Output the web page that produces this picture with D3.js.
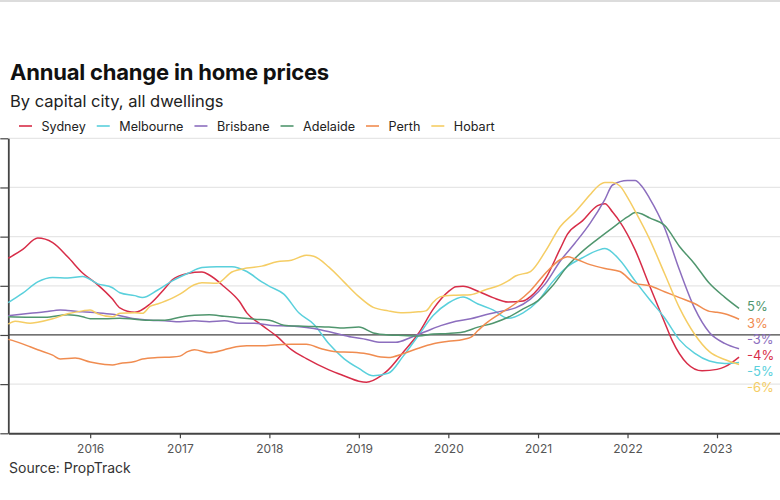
<!DOCTYPE html>
<html><head><meta charset="utf-8">
<script src="https://cdn.jsdelivr.net/npm/d3@7"></script>
<style>body{margin:0;background:#fff;} svg{display:block;font-family:Inter,"Noto Sans",sans-serif;}</style>
</head><body><svg id="c" width="780" height="500"></svg>
<script>
const cities = ["Sydney","Melbourne","Brisbane","Adelaide","Perth","Hobart"];
const colors = ["#d72d48","#5ad0dc","#8c6ebe","#50966e","#f08c50","#f5cd64"];
const endLabels = ["-4%","-5%","-3%","5%","3%","-6%"];
const yTicks = [-20,-10,0,10,20,30,40];
const xTickYears = [2016,2017,2018,2019,2020,2021,2022,2023];

const sydney = [["2015-02",15.6],["2015-04",17.4],["2015-06",19.7],["2015-08",18.8],["2015-10",15.9],["2015-12",12.6],["2016-02",10.2],["2016-04",7.3],["2016-05",5.5],["2016-07",4.6],["2016-09",6.3],["2016-11",9.5],["2016-12",11.2],["2017-02",12.5],["2017-04",12.8],["2017-05",12.2],["2017-07",9.8],["2017-09",6.8],["2017-10",4.5],["2017-12",2.0],["2018-02",-0.3],["2018-04",-3.0],["2018-06",-4.8],["2018-09",-7.1],["2018-11",-8.3],["2019-01",-9.4],["2019-02",-9.6],["2019-04",-8.3],["2019-05",-7.1],["2019-07",-3.5],["2019-09",0.3],["2019-11",5.3],["2020-01",8.8],["2020-02",9.8],["2020-03",9.9],["2020-05",8.9],["2020-07",7.6],["2020-09",6.7],["2020-11",6.9],["2020-12",7.8],["2021-02",11.5],["2021-04",17.5],["2021-05",20.5],["2021-07",23.2],["2021-09",26.3],["2021-10",26.7],["2021-11",25.0],["2021-12",23.0],["2022-02",17.3],["2022-04",10.0],["2022-06",2.6],["2022-07",-1.0],["2022-09",-5.8],["2022-11",-7.3],["2023-01",-7.0],["2023-02",-6.5],["2023-04",-4.5]];
const melbourne = [["2015-02",6.6],["2015-04",8.5],["2015-06",10.8],["2015-08",11.7],["2015-10",11.6],["2015-12",11.9],["2016-02",10.4],["2016-04",9.6],["2016-05",8.6],["2016-07",8.0],["2016-08",7.6],["2016-10",9.1],["2016-12",11.0],["2017-02",12.5],["2017-04",13.7],["2017-06",13.9],["2017-08",13.9],["2017-10",12.9],["2017-12",10.8],["2018-01",9.9],["2018-03",8.3],["2018-05",4.5],["2018-07",2.2],["2018-09",-1.8],["2018-11",-4.8],["2019-01",-6.8],["2019-03",-8.3],["2019-05",-7.8],["2019-07",-4.3],["2019-09",-0.1],["2019-11",4.0],["2020-01",6.5],["2020-03",7.7],["2020-05",6.3],["2020-07",5.1],["2020-09",3.4],["2020-11",4.5],["2021-01",6.9],["2021-03",10.8],["2021-05",13.9],["2021-07",15.7],["2021-09",17.2],["2021-10",17.6],["2021-12",15.2],["2022-02",11.0],["2022-04",7.2],["2022-06",3.5],["2022-08",-1.0],["2022-10",-3.7],["2022-12",-5.3],["2023-02",-5.8],["2023-04",-5.6]];
const brisbane = [["2015-02",3.9],["2015-05",4.4],["2015-07",4.7],["2015-09",5.1],["2015-10",5.0],["2015-12",4.7],["2016-02",4.5],["2016-04",4.2],["2016-07",3.3],["2016-09",3.0],["2016-11",2.9],["2017-01",2.7],["2017-03",2.9],["2017-05",2.7],["2017-07",2.9],["2017-09",2.4],["2017-11",2.4],["2018-01",2.0],["2018-04",1.8],["2018-06",1.5],["2018-08",1.0],["2018-10",0.3],["2018-12",-0.4],["2019-02",-0.9],["2019-04",-1.5],["2019-06",-1.5],["2019-08",-0.5],["2019-10",0.7],["2019-12",1.9],["2020-02",2.8],["2020-04",3.3],["2020-06",4.1],["2020-08",4.8],["2020-10",5.5],["2020-12",7.3],["2021-02",10.5],["2021-04",15.0],["2021-06",18.7],["2021-08",22.7],["2021-10",27.6],["2021-11",30.5],["2022-01",31.4],["2022-02",31.4],["2022-03",30.2],["2022-04",27.8],["2022-06",21.8],["2022-08",13.2],["2022-10",5.5],["2022-12",0.5],["2023-02",-1.7],["2023-04",-2.8]];
const adelaide = [["2015-02",3.7],["2015-05",3.6],["2015-07",3.6],["2015-10",4.1],["2015-12",3.7],["2016-01",3.3],["2016-03",3.3],["2016-05",3.4],["2016-07",3.2],["2016-09",3.0],["2016-11",3.0],["2017-01",3.6],["2017-03",4.0],["2017-05",4.1],["2017-07",3.8],["2017-09",3.5],["2017-11",3.2],["2018-01",3.0],["2018-03",2.0],["2018-05",1.8],["2018-07",1.7],["2018-09",1.6],["2018-11",1.4],["2019-01",1.6],["2019-03",0.4],["2019-05",0.0],["2019-07",-0.1],["2019-09",-0.2],["2019-11",0.2],["2020-01",0.3],["2020-03",0.6],["2020-05",1.6],["2020-07",2.4],["2020-09",3.6],["2020-11",5.3],["2021-01",7.0],["2021-03",10.0],["2021-05",14.0],["2021-07",17.0],["2021-09",19.5],["2021-11",21.8],["2022-01",24.0],["2022-02",24.9],["2022-03",24.6],["2022-04",23.8],["2022-06",22.3],["2022-08",18.0],["2022-10",14.5],["2022-12",10.5],["2023-02",7.7],["2023-04",5.4]];
const perth = [["2015-02",-0.9],["2015-03",-1.3],["2015-05",-2.4],["2015-06",-3.0],["2015-08",-4.1],["2015-09",-4.9],["2015-11",-4.7],["2016-01",-5.5],["2016-03",-6.0],["2016-04",-6.1],["2016-05",-5.8],["2016-07",-5.4],["2016-08",-4.9],["2016-10",-4.6],["2016-12",-4.5],["2017-01",-4.3],["2017-02",-3.4],["2017-03",-3.0],["2017-05",-3.6],["2017-07",-3.0],["2017-08",-2.6],["2017-10",-2.2],["2017-12",-2.2],["2018-02",-2.0],["2018-04",-1.9],["2018-06",-1.9],["2018-08",-2.8],["2018-10",-3.4],["2018-12",-3.5],["2019-02",-3.8],["2019-04",-4.5],["2019-05",-4.6],["2019-07",-3.8],["2019-09",-2.7],["2019-11",-1.8],["2020-01",-1.3],["2020-03",-0.9],["2020-04",-0.5],["2020-05",0.9],["2020-06",2.3],["2020-08",4.4],["2020-10",6.4],["2020-12",9.0],["2021-02",12.6],["2021-04",15.3],["2021-05",15.9],["2021-06",15.5],["2021-08",14.3],["2021-10",13.5],["2021-12",12.9],["2022-02",10.5],["2022-04",10.0],["2022-06",8.8],["2022-08",7.6],["2022-10",6.4],["2022-12",4.8],["2023-01",4.6],["2023-02",4.3],["2023-04",3.2]];
const hobart = [["2015-02",2.2],["2015-03",2.8],["2015-05",2.4],["2015-06",2.6],["2015-08",3.3],["2015-10",4.3],["2015-12",4.9],["2016-01",5.1],["2016-02",4.3],["2016-04",3.7],["2016-05",4.4],["2016-07",4.5],["2016-08",4.4],["2016-09",5.8],["2016-10",6.3],["2016-12",7.5],["2017-01",8.3],["2017-03",10.2],["2017-04",10.6],["2017-06",10.5],["2017-08",12.8],["2017-10",13.6],["2017-12",14.0],["2018-02",14.9],["2018-04",15.2],["2018-06",16.2],["2018-07",16.0],["2018-09",13.8],["2018-11",10.8],["2019-01",7.8],["2019-03",5.6],["2019-05",4.9],["2019-07",4.5],["2019-09",4.7],["2019-10",4.9],["2019-11",6.7],["2019-12",7.8],["2020-02",8.1],["2020-04",8.2],["2020-06",9.2],["2020-08",10.2],["2020-09",11.0],["2020-10",12.0],["2020-12",12.9],["2021-02",17.1],["2021-04",22.0],["2021-06",25.0],["2021-08",28.5],["2021-09",30.2],["2021-10",31.0],["2021-11",31.0],["2021-12",30.3],["2022-01",28.0],["2022-02",25.2],["2022-04",19.5],["2022-06",12.5],["2022-08",5.5],["2022-10",0.2],["2022-12",-3.4],["2023-02",-5.0],["2023-04",-6.0]];

const seriesValues = [sydney, melbourne, brisbane, adelaide, perth, hobart];
const parse = d3.timeParse("%Y-%m");

const svg = d3.select("#c");
const W = 780;
svg.append("rect").attr("x",0).attr("y",0).attr("width",W).attr("height",2).attr("fill","#dcdcdc");

// Titles
svg.append("text").attr("x",10).attr("y",80).attr("font-size",22).attr("font-weight",700).attr("fill","#111").attr("letter-spacing","-0.2").text("Annual change in home prices");
svg.append("text").attr("x",10).attr("y",107).attr("font-size",16.5).attr("fill","#222").text("By capital city, all dwellings");

// Legend
const leg = svg.append("g");
let lx = 19;
cities.forEach((c,i)=>{
  leg.append("line").attr("x1",lx).attr("x2",lx+13).attr("y1",126).attr("y2",126).attr("stroke",colors[i]).attr("stroke-width",1.6);
  const t = leg.append("text").attr("x",lx+22.5).attr("y",130.5).attr("font-size",12.6).attr("fill","#222").text(c);
  lx += 22.5 + t.node().getComputedTextLength() + 11;
});

const x = d3.scaleTime().domain([new Date(2015,1,1), new Date(2023,8,15)]).range([8.3,780]);
const y = d3.scaleLinear().domain([-20,40]).range([433.3,138.3]);

// gridlines
svg.append("g").selectAll("line").data(yTicks.filter(v=>v!==-20 && v!==0)).join("line")
  .attr("x1",8.3).attr("x2",W).attr("y1",d=>y(d)).attr("y2",d=>y(d))
  .attr("stroke","#e6e6e6").attr("stroke-width",1.2);

// y axis
const yAxis = svg.append("g").attr("transform","translate(8.3,0)")
  .call(d3.axisLeft(y).tickValues(yTicks).tickSize(8).tickFormat(()=>"").tickSizeOuter(0));
yAxis.select(".domain").attr("stroke","#444").attr("stroke-width",1.8);
yAxis.selectAll(".tick line").attr("stroke","#444").attr("stroke-width",1.2);

// zero line
svg.append("line").attr("x1",8.3).attr("x2",W).attr("y1",y(0)).attr("y2",y(0)).attr("stroke","#444").attr("stroke-width",1.3);

// x axis
const xAxis = svg.append("g").attr("transform",`translate(0,${y(-20)})`)
  .call(d3.axisBottom(x).tickValues(xTickYears.map(yr=>new Date(yr,0,1))).tickFormat(d3.timeFormat("%Y")).tickSize(5).tickSizeOuter(0).tickPadding(6));
xAxis.select(".domain").attr("stroke","#444").attr("stroke-width",2);
xAxis.selectAll(".tick line").attr("stroke","#444").attr("stroke-width",1.2);
xAxis.selectAll(".tick text").attr("font-size",12).attr("fill","#555").attr("font-family","Inter,'Noto Sans',sans-serif");

// lines
const line = d3.line().x(d=>x(parse(d[0]))).y(d=>y(d[1])).curve(d3.curveMonotoneX);
seriesValues.forEach((s,i)=>{
  svg.append("path").datum(s).attr("d",line).attr("fill","none").attr("stroke",colors[i]).attr("stroke-width",1.5).attr("stroke-linejoin","round");
});

// end labels with dodge
const gap = 16.2;
const items = seriesValues.map((s,i)=>({i, y:y(s[s.length-1][1])})).sort((a,b)=>a.y-b.y);
let groups = items.map(t=>({ids:[t], mean:t.y}));
let changed = true;
while(changed){
  changed = false;
  for(let k=0;k<groups.length-1;k++){
    const a=groups[k], b=groups[k+1];
    const aBottom = a.mean + (a.ids.length-1)*gap/2;
    const bTop = b.mean - (b.ids.length-1)*gap/2;
    if(bTop - aBottom < gap){
      const ids = a.ids.concat(b.ids);
      groups.splice(k,2,{ids, mean:d3.mean(ids,d=>d.y)});
      changed = true; break;
    }
  }
}
groups.forEach(g=>g.ids.forEach((d,k)=>{ d.ly = g.mean + (k-(g.ids.length-1)/2)*gap; }));
items.forEach(d=>{
  svg.append("text").attr("x",747).attr("y",d.ly+8.5).attr("font-size",13).attr("fill",colors[d.i]).text(endLabels[d.i]);
});

// source
svg.append("text").attr("x",9).attr("y",473).attr("font-size",14).attr("fill","#333").text("Source: PropTrack");
</script></body></html>
